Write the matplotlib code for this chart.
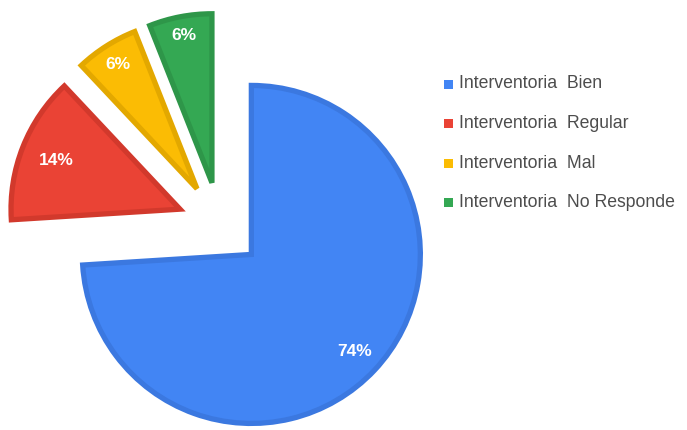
import matplotlib.pyplot as plt
import matplotlib.patches as mpatches
import numpy as np

labels = ["Interventoria  Bien", "Interventoria  Regular",
          "Interventoria  Mal", "Interventoria  No Responde"]
values = [74, 14, 6, 6]
pct_text = ["74%", "14%", "6%", "6%"]

fill_colors = ["#4285F4", "#EA4335", "#FBBC04", "#34A853"]
edge_colors = ["#3B78E0", "#D2392C", "#E3A800", "#2E9649"]
label_dist = [0.84, 0.79, 0.87, 0.89]

W, H = 687, 430
fig = plt.figure(figsize=(W / 100, H / 100), dpi=100)
ax = fig.add_axes([0, 0, 1, 1])

r = 169
wedges, _ = ax.pie(values, colors=fill_colors, startangle=90, counterclock=False,
                   radius=r, center=(220, 205), explode=[43] * 4,
                   wedgeprops=dict(linewidth=3.8, joinstyle="miter"), frame=True)
ax.set_xlim(0, W)
ax.set_ylim(0, H)
ax.set_aspect("equal")
ax.axis("off")

for w, ec, txt, d in zip(wedges, edge_colors, pct_text, label_dist):
    w.set_edgecolor(ec)
    th = np.deg2rad((w.theta1 + w.theta2) / 2)
    cx, cy = w.center
    ax.text(cx + d * r * np.cos(th), cy + d * r * np.sin(th), txt,
            ha="center", va="center", color="white", fontsize=12.5,
            fontweight="bold", family="Liberation Sans")

# legend drawn by hand
for i, (lab, c) in enumerate(zip(labels, fill_colors)):
    y = H - (84 + i * 39.6)
    ax.add_patch(mpatches.Rectangle((444, y - 4.5), 9, 9, color=c, lw=0))
    ax.text(459, y, lab, ha="left", va="center", color="#4d4d4d",
            fontsize=12.7, family="Liberation Sans")

fig.savefig("out.png", dpi=100)
